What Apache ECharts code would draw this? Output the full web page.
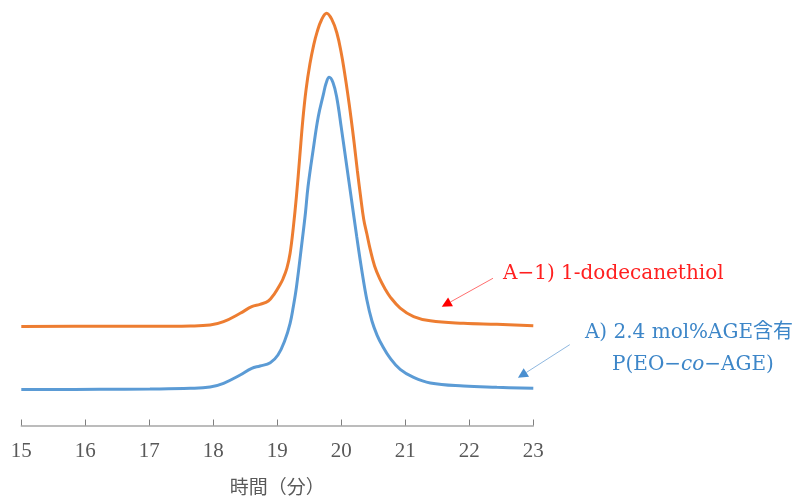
<!DOCTYPE html>
<html>
<head>
<meta charset="utf-8">
<script src="https://cdn.jsdelivr.net/npm/echarts@6/dist/echarts.min.js"></script>
<style>
  html, body { margin: 0; padding: 0; background: #fff; }
  #chart { width: 805px; height: 499px; }
</style>
</head>
<body>
<div id="chart"></div>
<script>
// GPC traces: retention time (min) vs. detector signal (arbitrary units, offset traces)
const xTicks = [15, 16, 17, 18, 19, 20, 21, 22, 23];
const axisTitle = '時間（分）';

// A-1) thiol-modified polymer (orange trace)
const timeA1 = [15.00, 16.23, 17.01, 17.64, 17.95, 18.16, 18.42, 18.60, 18.73, 18.86, 18.96, 19.04, 19.09,
  19.15, 19.20, 19.25, 19.30, 19.35, 19.40, 19.45, 19.51, 19.57, 19.62, 19.69, 19.77,
  19.85, 19.93, 20.00, 20.05, 20.10, 20.15, 20.20, 20.25, 20.30, 20.35, 20.40, 20.45, 20.52, 20.60,
  20.68, 20.76, 20.92, 21.13, 21.39, 21.91, 22.43, 23.00];
const signalA1 = [23.27, 23.31, 23.31, 23.38, 23.60, 24.39, 26.37, 27.92, 28.48, 29.26, 31.07, 33.02, 34.50,
  37.00, 40.50, 46.50, 54.00, 63.00, 72.00, 79.00, 85.00, 89.50, 92.40, 95.30, 96.90,
  95.50, 92.30, 87.50, 83.00, 78.00, 72.50, 66.50, 60.00, 54.00, 48.50, 45.00, 41.50, 37.50, 34.50,
  32.20, 30.30, 27.60, 25.60, 24.60, 24.02, 23.78, 23.45];

// A) 2.4 mol% AGE copolymer (blue trace)
const timeA = [15.00, 16.23, 17.01, 17.64, 17.95, 18.16, 18.42, 18.60, 18.73, 18.89, 19.01, 19.12, 19.20,
  19.25, 19.30, 19.39, 19.44, 19.48, 19.56, 19.64, 19.72, 19.76, 19.81,
  19.87, 19.93, 20.00, 20.08, 20.16, 20.24, 20.32, 20.40, 20.48, 20.56, 20.64, 20.76, 20.92, 21.13, 21.39,
  21.91, 22.43, 23.00];
const signalA = [8.46, 8.50, 8.58, 8.74, 9.05, 9.92, 11.87, 13.44, 13.98, 14.76, 16.57, 20.09, 24.02,
  27.92, 32.62, 43.60, 50.00, 56.12, 64.75, 72.57, 77.80, 80.30, 81.83,
  80.60, 77.00, 70.00, 61.50, 53.00, 44.50, 36.50, 29.50, 24.50, 21.20, 18.80, 15.90, 13.20, 11.30, 10.00,
  9.28, 8.98, 8.74];

// annotation texts and arrow endpoints [time, signal]
const labelA1 = 'A−1) 1-dodecanethiol';
const arrowA1 = [[22.37, 34.6], [21.57, 27.9]];
const labelA = ['A) 2.4 mol%AGE含有', 'P(EO−{i|co}−AGE)'];
const arrowA = [[23.57, 19.0], [22.76, 11.2]];

const colorA1 = '#ED7D31';
const colorA = '#5B9BD5';
const serif = "'Liberation Serif', 'DejaVu Serif', 'Noto Sans CJK JP', serif";
const noteFont = "'DejaVu Serif', 'Noto Sans CJK JP', serif";

const zip = (xs, ys) => xs.map((x, i) => [x, ys[i]]);

const chart = echarts.init(document.getElementById('chart'), null, { renderer: 'canvas' });

const option = {
  animation: false,
  backgroundColor: '#ffffff',
  grid: { left: 21.3, right: 805 - 533.3, top: 0, bottom: 73.5, containLabel: false, outerBoundsMode: 'none' },
  xAxis: {
    type: 'value', min: xTicks[0], max: xTicks[xTicks.length - 1], interval: 1,
    name: axisTitle, nameLocation: 'middle', nameGap: 52,
    nameTextStyle: { color: '#595959', fontSize: 19, fontFamily: "'Noto Sans CJK JP', sans-serif" },
    axisLine: { lineStyle: { color: '#a6a6a6', width: 1.5 } },
    axisTick: { inside: true, length: 6, lineStyle: { color: '#7f7f7f', width: 1 } },
    axisLabel: { color: '#595959', fontSize: 21, fontFamily: serif, margin: 15 },
    splitLine: { show: false }
  },
  yAxis: { type: 'value', min: 0, max: 100, show: false, splitLine: { show: false } },
  series: [
    {
      type: 'line', data: zip(timeA1, signalA1), smooth: 0.4, showSymbol: false,
      lineStyle: { color: colorA1, width: 3 }, itemStyle: { color: colorA1 }
    },
    {
      type: 'line', data: zip(timeA, signalA), smooth: 0.4, showSymbol: false,
      lineStyle: { color: colorA, width: 3 }, itemStyle: { color: colorA }
    }
  ]
};
chart.setOption(option);

// arrow built from data coordinates: a thin shaft plus a filled head
function arrow(pts, lineColor, headColor, headLen, headHalf) {
  const p0 = chart.convertToPixel({ gridIndex: 0 }, pts[0]);
  const p1 = chart.convertToPixel({ gridIndex: 0 }, pts[1]);
  const dx = p1[0] - p0[0], dy = p1[1] - p0[1];
  const L = Math.hypot(dx, dy), ux = dx / L, uy = dy / L;
  const bx = p1[0] - ux * headLen, by = p1[1] - uy * headLen;
  return [
    { type: 'line', shape: { x1: p0[0], y1: p0[1], x2: bx, y2: by },
      style: { stroke: lineColor, lineWidth: 1 } },
    { type: 'polygon', shape: { points: [[p1[0], p1[1]],
        [bx - uy * headHalf, by + ux * headHalf], [bx + uy * headHalf, by - ux * headHalf]] },
      style: { fill: headColor } }
  ];
}

const pA1 = chart.convertToPixel({ gridIndex: 0 }, arrowA1[0]);

chart.setOption({
  graphic: [
    ...arrow(arrowA1, '#ff6f6f', '#ff0000', 10, 5),
    ...arrow(arrowA, '#8fb8e0', '#4a8fd0', 10, 5),
    { type: 'text', x: pA1[0] + 10, y: pA1[1] - 4,
      style: { text: labelA1, fill: '#ff2020', font: '20px ' + noteFont, textVerticalAlign: 'middle' } },
    { type: 'text', x: 689, y: 333,
      style: { text: labelA[0], fill: '#3d86c8', font: '20px ' + noteFont,
        textAlign: 'center', textVerticalAlign: 'middle' } },
    { type: 'text', x: 693, y: 365,
      style: { text: labelA[1], fill: '#3d86c8', fontSize: 20, fontFamily: noteFont,
        textAlign: 'center', textVerticalAlign: 'middle',
        rich: { i: { fontStyle: 'italic', fontSize: 20, fontFamily: noteFont, fill: '#3d86c8' } } } }
  ]
});
</script>
</body>
</html>
